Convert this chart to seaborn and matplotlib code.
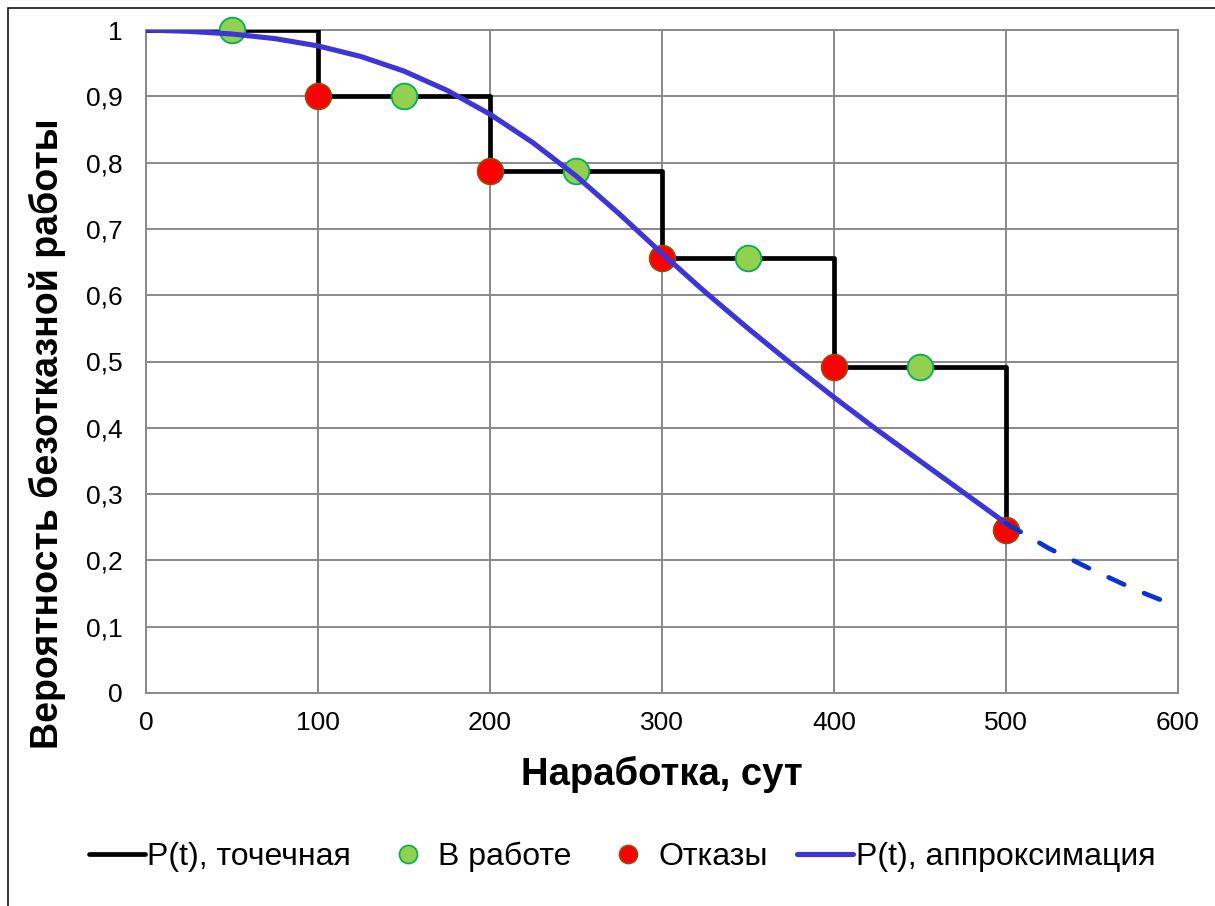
import matplotlib
matplotlib.use("Agg")
import matplotlib.pyplot as plt
from matplotlib.lines import Line2D
from matplotlib.patches import Rectangle
import seaborn as sns
import pandas as pd

# ---------------- data ----------------
step_t = [0, 100, 200, 300, 400, 500]
step_p = [1.0, 0.9, 0.788, 0.656, 0.492, 0.246]

work_t = [50, 150, 250, 350, 450]
work_p = [1.0, 0.9, 0.788, 0.656, 0.492]

fail_t = [100, 200, 300, 400, 500]
fail_p = [0.9, 0.788, 0.656, 0.492, 0.246]

approx_t = [0, 25, 50, 75, 100, 125, 150, 175, 200, 225, 250, 275, 300,
            325, 350, 375, 400, 425, 450, 475, 500]
approx_p = [1.000, 0.998, 0.994, 0.987, 0.976, 0.960, 0.938, 0.909, 0.873,
            0.830, 0.780, 0.723, 0.663, 0.605, 0.550, 0.497, 0.446, 0.397,
            0.350, 0.303, 0.256]

extrap_t = [500, 525, 550, 575, 600]
extrap_p = [0.256, 0.218, 0.186, 0.156, 0.130]

x_ticks = [0, 100, 200, 300, 400, 500, 600]
y_ticks = [0, 0.1, 0.2, 0.3, 0.4, 0.5, 0.6, 0.7, 0.8, 0.9, 1.0]
y_tick_labels = ["0", "0,1", "0,2", "0,3", "0,4", "0,5", "0,6", "0,7", "0,8", "0,9", "1"]

x_label = "Наработка, сут"
y_label = "Вероятность безотказной работы"
legend_labels = ["P(t), точечная", "В работе", "Отказы", "P(t), аппроксимация"]

# ---------------- style ----------------
sns.set_theme(style="white")
plt.rcParams["font.family"] = ["Liberation Sans", "DejaVu Sans"]

GRID = "#898989"
BLACK = "#000000"
GREEN_F, GREEN_E = "#92d050", "#00b050"
RED_F, RED_E = "#ff0000", "#984807"
BLUE = "#3d35d8"
BLUE_D = "#0b33d2"

fig = plt.figure(figsize=(12.15, 9.06), dpi=100)
W, H = 1215, 906
ax = fig.add_axes([146 / W, 1 - 693 / H, (1178 - 146) / W, (693 - 30) / H])

df_step = pd.DataFrame({"t": step_t, "p": step_p})
df_work = pd.DataFrame({"t": work_t, "p": work_p})
df_fail = pd.DataFrame({"t": fail_t, "p": fail_p})
df_app = pd.DataFrame({"t": approx_t, "p": approx_p})
df_ext = pd.DataFrame({"t": extrap_t, "p": extrap_p})

sns.lineplot(data=df_step, x="t", y="p", ax=ax, color=BLACK, lw=3.4,
             drawstyle="steps-post", estimator=None, sort=False, zorder=3,
             legend=False)
sns.scatterplot(data=df_work, x="t", y="p", ax=ax, s=18.5 ** 2, color=GREEN_F,
                edgecolor=GREEN_E, linewidth=1.3, zorder=4, legend=False,
                clip_on=False)
sns.scatterplot(data=df_fail, x="t", y="p", ax=ax, s=18.5 ** 2, color=RED_F,
                edgecolor=RED_E, linewidth=1.3, zorder=4, legend=False,
                clip_on=False)
sns.lineplot(data=df_app, x="t", y="p", ax=ax, color=BLUE, lw=3.7,
             estimator=None, sort=False, zorder=5, legend=False,
             solid_capstyle="round", solid_joinstyle="round")
sns.lineplot(data=df_ext, x="t", y="p", ax=ax, color=BLUE_D, lw=3.4,
             estimator=None, sort=False, zorder=5, legend=False,
             dashes=False, linestyle=(0, (3.6, 4.6)), dash_capstyle="round")

# ---------------- axes ----------------
ax.set_xlim(0, 600)
ax.set_ylim(0, 1)
ax.set_xticks(x_ticks)
ax.set_xticklabels([str(v) for v in x_ticks])
ax.set_yticks(y_ticks)
ax.set_yticklabels(y_tick_labels)
ax.grid(True, color=GRID, lw=1.4)
ax.set_axisbelow(True)
for side, sp in ax.spines.items():
    sp.set_color(GRID)
    sp.set_linewidth(1.4)
ax.tick_params(axis="both", which="major", direction="out", length=5,
               width=1.4, color=GRID, labelsize=19, labelcolor="black")
ax.tick_params(axis="x", pad=8)
ax.tick_params(axis="y", pad=12)

ax.set_xlabel(x_label, fontsize=27.5, fontweight="bold", color="black")
ax.set_ylabel(y_label, fontsize=27, fontweight="bold", color="black")
ax.xaxis.set_label_coords(0.5, (693 - 774) / 663)
ax.xaxis.label.set_va("center")
ax.yaxis.set_label_coords((47 - 146) / 1032, (693 - 434) / 663)
ax.yaxis.label.set_va("center")

# ---------------- legend ----------------
handles = [
    Line2D([], [], color=BLACK, lw=3.4, solid_capstyle="round"),
    Line2D([], [], ls="none", marker="o", ms=13, mfc=GREEN_F, mec=GREEN_E, mew=1.2),
    Line2D([], [], ls="none", marker="o", ms=13, mfc=RED_F, mec=RED_E, mew=1.2),
    Line2D([], [], color=BLUE, lw=3.7, solid_capstyle="round"),
]
fig.legend(handles, legend_labels, loc="center", bbox_to_anchor=(0.512, 1 - 857 / H),
           ncol=4, frameon=False, fontsize=23, handlelength=1.75,
           handletextpad=0.08, columnspacing=0.9, labelcolor="black")

# ---------------- outer border ----------------
fig.patches.append(Rectangle((8 / W, -0.1), 1.2, 1 - 8 / H + 0.1,
                             transform=fig.transFigure, fill=False,
                             ec="black", lw=1.1, clip_on=False))

fig.savefig("out.png", dpi=100)
